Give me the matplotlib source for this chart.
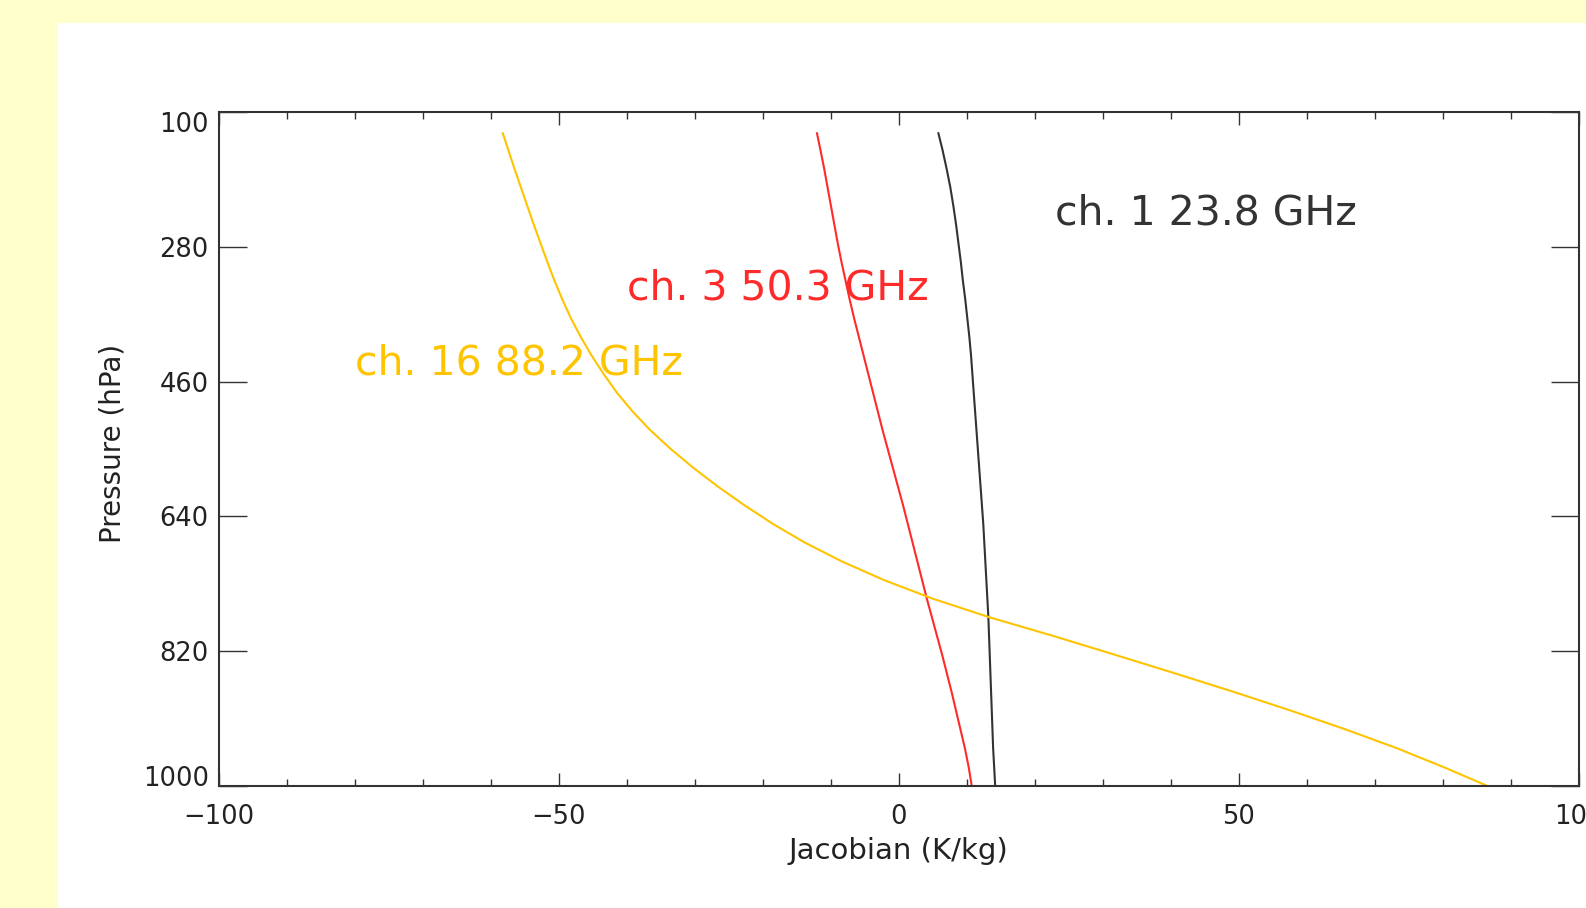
import matplotlib
matplotlib.use("Agg")
import matplotlib.pyplot as plt
from matplotlib.patches import Rectangle
from matplotlib.ticker import MultipleLocator, FixedLocator

# ---- data ----
pressure = [128, 150, 175, 200, 225, 250, 275, 300, 325, 350, 375, 400, 425, 450,
            475, 500, 525, 550, 575, 600, 625, 650, 675, 700, 725, 750, 775, 800,
            825, 850, 875, 900, 925, 950, 975, 1000]
jac_ch1 = [5.85, 6.45, 7.05, 7.6, 8.05, 8.45, 8.8, 9.15, 9.45, 9.8, 10.1, 10.4, 10.65,
           10.85, 11.05, 11.25, 11.45, 11.65, 11.85, 12.05, 12.25, 12.45, 12.6, 12.75,
           12.9, 13.05, 13.2, 13.3, 13.4, 13.5, 13.6, 13.7, 13.8, 13.9, 14.05, 14.2]
jac_ch3 = [-12.0, -11.5, -10.95, -10.45, -9.95, -9.45, -8.95, -8.4, -7.8, -7.2, -6.55,
           -5.85, -5.15, -4.45, -3.75, -3.05, -2.35, -1.6, -0.85, -0.1, 0.65, 1.35,
           2.05, 2.75, 3.45, 4.15, 4.9, 5.65, 6.4, 7.1, 7.8, 8.45, 9.1, 9.75, 10.3, 10.75]
jac_ch16 = [-58.2, -57.4, -56.5, -55.55, -54.6, -53.65, -52.65, -51.65, -50.6, -49.45,
            -48.2, -46.75, -45.15, -43.35, -41.4, -39.1, -36.5, -33.5, -30.2, -26.6,
            -22.7, -18.5, -13.8, -8.4, -2.2, 5.0, 13.4, 22.8, 31.8, 40.7, 49.4, 57.8,
            65.8, 73.3, 80.1, 86.5]

labels = ["ch. 1 23.8 GHz", "ch. 3 50.3 GHz", "ch. 16 88.2 GHz"]
label_x = [23, -40, -80]
label_p = [250, 350, 450]
colors = ["#333333", "#FF2A2A", "#FFC400"]

yticks = [100, 280, 460, 640, 820, 1000]
xticks = [-100, -50, 0, 50, 100]

# ---- figure ----
W, H = 1586, 908
fig = plt.figure(figsize=(W / 100, H / 100), dpi=100)
fig.patch.set_facecolor("#FFFFCC")
fig.patches.append(Rectangle((58 / W, 0), 1, 1 - 23 / H, transform=fig.transFigure,
                             facecolor="white", edgecolor="none", zorder=-10))

ax = fig.add_axes([218.5 / W, 1 - 785.7 / H, (1578.7 - 218.5) / W, (785.7 - 112.3) / H])
ax.set_facecolor("white")
ax.set_zorder(5)

series = [jac_ch1, jac_ch3, jac_ch16]
for vals, c in zip(series, colors):
    ax.plot(vals, pressure, color=c, lw=1.5, solid_joinstyle="round")

for t, x, p, c in zip(labels, label_x, label_p, colors):
    ax.text(x, p, t, color=c, fontsize=29.5, ha="left", va="baseline")

ax.set_xlim(-100, 100)
ax.set_ylim(1000, 100)
ax.xaxis.set_major_locator(FixedLocator(xticks))
ax.xaxis.set_minor_locator(MultipleLocator(10))
ax.yaxis.set_major_locator(FixedLocator(yticks))
ax.set_xticklabels([("\u2212" + str(abs(v))) if v < 0 else str(v) for v in xticks])
ax.set_yticklabels([str(v) for v in yticks])

tc = "#222222"
ax.tick_params(axis="x", which="major", direction="in", length=9.5, width=1.0,
               top=True, bottom=True, labelsize=18.5, pad=13, colors="#333333", labelcolor=tc)
ax.tick_params(axis="x", which="minor", direction="in", length=5, width=1.0,
               top=True, bottom=True, colors="#333333")
ax.tick_params(axis="y", which="major", direction="in", length=20, width=1.0,
               left=True, right=True, labelsize=18.5, pad=7, colors="#333333", labelcolor=tc)

for s in ax.spines.values():
    s.set_linewidth(1.5)
    s.set_color("#333333")

ylabs = ax.get_yticklabels()
ylabs[0].set_va("top")
ylabs[-1].set_va("baseline")

ax.set_xlabel("Jacobian (K/kg)", fontsize=21, color=tc, labelpad=5)
ax.set_ylabel("Pressure (hPa)", fontsize=20, color=tc, labelpad=12)
ax.yaxis.label.set_y(0.508)

fig.savefig("out.png", dpi=100, facecolor=fig.get_facecolor())
